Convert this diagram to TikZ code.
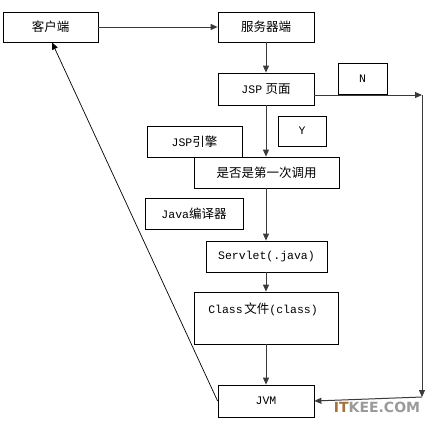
\documentclass[tikz,border=0pt]{standalone}
\usepackage{fontspec}
\setmonofont{Liberation Mono}
\newfontfamily\cjk{Noto Sans CJK SC}
\newfontfamily\wmfont{DejaVu Sans}
\usetikzlibrary{arrows.meta}
\newcommand{\zh}[1]{{\cjk\fontsize{12.5}{14}\selectfont #1}}
\newcommand{\en}[1]{{\ttfamily\fontsize{11.5}{14}\selectfont #1}}
\definecolor{arrgray}{HTML}{3A3A3A}
\definecolor{wmbrown}{HTML}{A8703C}
\definecolor{wmgray}{HTML}{9A9A9A}
\tikzset{
  box/.style={draw=black, line width=0.8pt, rectangle, fill=white, inner sep=0pt, minimum width=#1},
  box/.default=96pt,
  arr/.style={draw=arrgray, line width=1pt, -{Triangle[length=7pt,width=6pt]}},
  plain/.style={draw=arrgray, line width=1pt},
  diag/.style={draw=black, line width=0.7pt, -{Triangle[length=7pt,width=6pt]}},
}
\begin{document}
\begin{tikzpicture}[x=1pt,y=-1pt]
\useasboundingbox[fill=white] (0,0) rectangle (441,424);
% nodes
\node[box=95pt, minimum height=30pt] (client) at (50.5,27) {\zh{客户端}};
\node[box=96pt, minimum height=30pt] (server) at (266,27) {\zh{服务器端}};
\node[box=96pt, minimum height=32pt] (jsp) at (266,89) {\en{JSP} \zh{页面}};
\node[box=49pt, minimum height=31pt] (nbox) at (362.5,78.5) {\en{N}};
\node[box=48pt, minimum height=30pt] (ybox) at (302,131) {\en{Y}};
\node[box=95pt, minimum height=31pt] (engine) at (194.5,141.5) {\en{JSP}\zh{引擎}};
\node[box=145pt, minimum height=31pt] (first) at (266.5,172.5) {\zh{是否是第一次调用}};
\node[box=98pt, minimum height=31pt] (javac) at (194,213.5) {\en{Java}\zh{编译器}};
\node[box=121pt, minimum height=31pt] (servlet) at (266.5,256.5) {\en{Servlet(.java)}};
\node[box=144pt, minimum height=52pt] (class) at (266,318) {};
\node[inner sep=0pt] (classlbl) at (263,309) {\en{Class}\,\zh{文件}\en{(class)}};
\node[box=96pt, minimum height=32pt] (jvm) at (266,401) {\en{JVM}};
% helper coordinates
\coordinate (nR) at (422,95);
\coordinate (nB) at (422,397);
% connectors
\draw[arr] (client.east) -- (server.west);
\draw[arr] (server.south) -- (jsp.north);
\draw[arr] (jsp.east |- nR) -- (nR);
\draw[arr] (nR) -- (nB);
\draw[arr] (nB) -- (jvm.east);
\draw[arr] (jsp.south) -- (jsp.south |- first.north);
\draw[arr] (first.south -| jsp.south) -- (jsp.south |- servlet.north);
\draw[arr] (servlet.south -| jsp.south) -- (jsp.south |- class.north);
\draw[arr] (class.south -| jsp.south) -- (jsp.south |- jvm.north);
\draw[diag] (jvm.west) -- ([xshift=1.5pt]client.south);
% watermark
\node[inner sep=0pt] (wm) at (377,407) {\wmfont\bfseries\fontsize{14}{14}\selectfont\textcolor{wmbrown}{IT}\textcolor{wmgray}{KEE.COM}};
\end{tikzpicture}
\end{document}
